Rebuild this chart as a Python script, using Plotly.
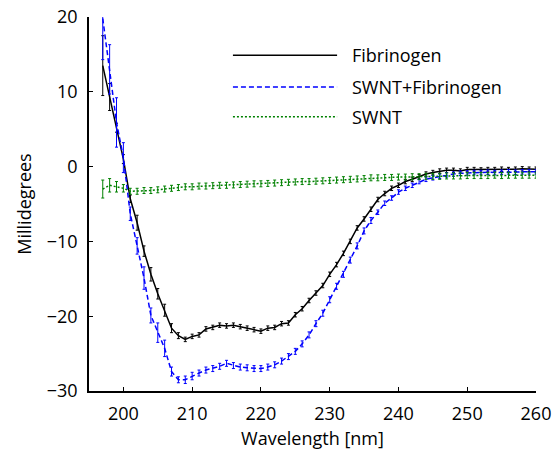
import plotly.graph_objects as go

wavelength = list(range(197, 261))

fibrinogen = [13.5, 9.3, 5.2, 1.0, -4.3, -7.5, -11.3, -14.4, -17.0, -19.2,
              -21.6, -22.6, -23.1, -22.7, -22.5, -21.7, -21.5, -21.2, -21.3, -21.2,
              -21.4, -21.6, -21.8, -22.0, -21.6, -21.5, -21.0, -20.9, -19.8, -19.0,
              -17.9, -16.9, -15.9, -14.4, -13.1, -11.6, -10.0, -8.2, -7.0, -5.7,
              -4.4, -3.6, -2.9, -2.5, -2.0, -1.7, -1.35, -1.0, -0.8, -0.6,
              -0.5, -0.5, -0.6, -0.4, -0.4, -0.45, -0.4, -0.4, -0.35, -0.4,
              -0.35, -0.3, -0.35, -0.35]
fibrinogen_err = [4.0, 1.8, 0.6, 0.6, 0.5, 1.0, 0.7, 0.9, 0.7, 0.8,
                  0.6, 0.4, 0.3, 0.3, 0.3, 0.3, 0.3, 0.3, 0.3, 0.3,
                  0.3, 0.3, 0.3, 0.3, 0.3, 0.3, 0.3, 0.3, 0.3, 0.3,
                  0.3, 0.3, 0.3, 0.3, 0.3, 0.3, 0.3, 0.3, 0.3, 0.3,
                  0.3, 0.3, 0.3, 0.3, 0.3, 0.3, 0.3, 0.3, 0.3, 0.3,
                  0.3, 0.3, 0.3, 0.3, 0.3, 0.3, 0.3, 0.3, 0.3, 0.3,
                  0.3, 0.3, 0.3, 0.3]

swnt_fibrinogen = [19.8, 13.0, 5.9, 1.2, -6.3, -10.6, -14.9, -19.9, -22.2, -24.3,
                   -27.4, -28.5, -28.5, -28.0, -27.6, -27.2, -27.0, -26.7, -26.3, -26.6,
                   -26.8, -26.9, -27.0, -27.0, -26.8, -26.5, -26.0, -25.4, -24.7, -23.7,
                   -22.5, -21.0, -19.6, -17.8, -16.0, -14.4, -12.5, -10.6, -8.6, -7.2,
                   -6.1, -4.9, -4.2, -3.4, -2.9, -2.5, -2.0, -1.7, -1.5, -1.3,
                   -1.1, -1.0, -0.9, -0.85, -0.8, -0.8, -0.75, -0.8, -0.75, -0.7,
                   -0.75, -0.7, -0.7, -0.7]
swnt_fibrinogen_err = [5.5, 3.3, 3.3, 2.0, 0.9, 1.1, 1.5, 1.0, 1.3, 1.1,
                       0.6, 0.4, 0.5, 0.5, 0.4, 0.4, 0.4, 0.4, 0.4, 0.4,
                       0.4, 0.4, 0.4, 0.4, 0.4, 0.4, 0.4, 0.4, 0.4, 0.4,
                       0.4, 0.4, 0.4, 0.4, 0.4, 0.4, 0.4, 0.4, 0.4, 0.4,
                       0.3, 0.3, 0.3, 0.3, 0.3, 0.3, 0.3, 0.3, 0.3, 0.3,
                       0.3, 0.3, 0.3, 0.3, 0.3, 0.3, 0.3, 0.3, 0.3, 0.3,
                       0.3, 0.3, 0.3, 0.3]

swnt = [-3.0, -2.5, -2.7, -2.9, -3.3, -3.3, -3.2, -3.2, -3.1, -3.0,
        -2.9, -2.8, -2.7, -2.7, -2.6, -2.6, -2.55, -2.5, -2.5, -2.45,
        -2.4, -2.35, -2.3, -2.3, -2.25, -2.2, -2.15, -2.1, -2.05, -2.0,
        -2.0, -1.95, -1.9, -1.85, -1.8, -1.75, -1.7, -1.65, -1.6, -1.5,
        -1.5, -1.45, -1.45, -1.4, -1.4, -1.35, -1.35, -1.3, -1.3, -1.3,
        -1.25, -1.25, -1.25, -1.2, -1.2, -1.2, -1.2, -1.15, -1.2, -1.15,
        -1.15, -1.15, -1.15, -1.15]
swnt_err = [1.2, 0.9, 0.7, 0.5, 0.4, 0.4, 0.4, 0.4, 0.4, 0.4,
            0.4, 0.4, 0.4, 0.4, 0.4, 0.4, 0.4, 0.4, 0.4, 0.4,
            0.4, 0.4, 0.4, 0.4, 0.4, 0.4, 0.4, 0.4, 0.4, 0.4,
            0.4, 0.4, 0.4, 0.4, 0.4, 0.4, 0.4, 0.4, 0.4, 0.4,
            0.4, 0.4, 0.4, 0.4, 0.4, 0.4, 0.4, 0.4, 0.4, 0.4,
            0.4, 0.4, 0.4, 0.4, 0.4, 0.4, 0.4, 0.4, 0.4, 0.4,
            0.4, 0.4, 0.4, 0.4]

series_names = ["Fibrinogen", "SWNT+Fibrinogen", "SWNT"]
x_ticks = [200, 210, 220, 230, 240, 250, 260]
y_ticks = [-30, -20, -10, 0, 10, 20]

FONT = "'Open Sans', Lato, sans-serif"
colors = ["#000000", "#0000ff", "#008000"]
dashes = ["solid", "5px,3px", "2px,2px"]

fig = go.Figure()
for name, vals, errs, c, d in zip(series_names,
                                   [fibrinogen, swnt_fibrinogen, swnt],
                                   [fibrinogen_err, swnt_fibrinogen_err, swnt_err],
                                   colors, dashes):
    fig.add_trace(go.Scatter(
        x=wavelength, y=vals, mode="lines", name=name,
        line=dict(color=c, width=1.5, dash=d),
        error_y=dict(type="data", array=errs, visible=True, color=c,
                     thickness=1, width=1.5),
        showlegend=False,
    ))

# manual legend (long line samples as in the original)
legend_y = [0.898, 0.813, 0.733]
for name, c, d, ly in zip(series_names, colors, dashes, legend_y):
    fig.add_shape(type="line", xref="paper", yref="paper",
                  x0=0.322, x1=0.555, y0=ly, y1=ly,
                  line=dict(color=c, width=1.5, dash=d))
    fig.add_annotation(xref="paper", yref="paper", x=0.584, y=ly,
                       text=name, showarrow=False, xanchor="left",
                       yanchor="middle",
                       font=dict(family=FONT, size=18, color="#000"))

fig.update_layout(
    width=556, height=460,
    margin=dict(l=89, r=20, t=17, b=69, autoexpand=False),
    paper_bgcolor="white", plot_bgcolor="white",
    font=dict(family=FONT, size=18, color="#000"),
)
fig.update_xaxes(
    range=[195, 260], tickvals=x_ticks, ticks="inside", ticklen=4,
    tickcolor="#000", showline=True, linecolor="#000", linewidth=1.5,
    showgrid=False, zeroline=False, ticklabelstandoff=6, automargin=False,
    title=dict(text="Wavelength [nm]", standoff=8,
               font=dict(family=FONT, size=18)),
)
fig.update_yaxes(
    range=[-30, 20], tickvals=y_ticks, ticks="inside", ticklen=4,
    tickcolor="#000", showline=True, linecolor="#000", linewidth=1.5,
    showgrid=False, zeroline=False, ticklabelstandoff=6, automargin=False,
    title=dict(text="Millidegrees", standoff=10,
               font=dict(family=FONT, size=18)),
)

fig.write_html("out.html", config={"displayModeBar": False},
               post_script="document.body.style.margin='0';document.body.style.padding='0';")
